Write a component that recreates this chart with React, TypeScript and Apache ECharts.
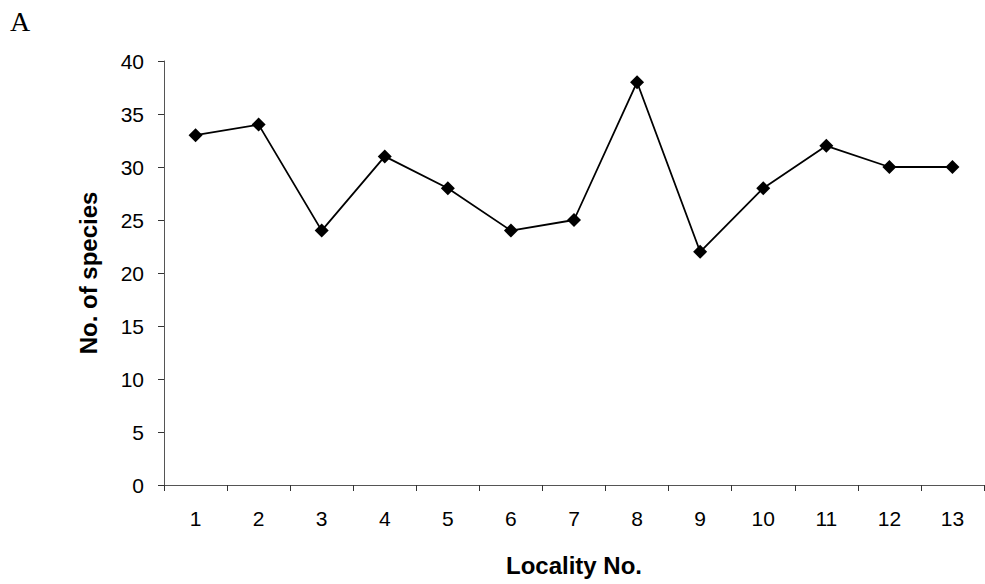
import React, { useEffect, useRef } from "react";
import * as echarts from "echarts";

const localities = ["1", "2", "3", "4", "5", "6", "7", "8", "9", "10", "11", "12", "13"];
const species = [33, 34, 24, 31, 28, 24, 25, 38, 22, 28, 32, 30, 30];

export default function App() {
  const ref = useRef<HTMLDivElement>(null);
  useEffect(() => {
    if (!ref.current) return;
    const chart = echarts.init(ref.current, null, { renderer: "svg" });
    chart.setOption({
      animation: false,
      backgroundColor: "#ffffff",
      textStyle: { fontFamily: "Liberation Sans, Arial, sans-serif" },
      title: {
        text: "A",
        left: 5,
        top: 2,
        textStyle: {
          fontSize: 28,
          fontWeight: "normal",
          fontFamily: "Liberation Serif, Times New Roman, serif",
          color: "#000",
        },
      },
      grid: { left: 164, right: 1, top: 61, bottom: 99 },
      xAxis: {
        type: "category",
        data: localities,
        boundaryGap: true,
        axisLine: { lineStyle: { color: "#555", width: 1 } },
        axisTick: { show: true, inside: false, length: 6, lineStyle: { color: "#333" } },
        axisLabel: { color: "#000", fontSize: 21, margin: 23 },
        name: "Locality No.",
        nameLocation: "middle",
        nameGap: 68,
        nameTextStyle: { color: "#000", fontSize: 24, fontWeight: "bold" },
      },
      yAxis: {
        type: "value",
        min: 0,
        max: 40,
        interval: 5,
        splitLine: { show: false },
        axisLine: { show: true, lineStyle: { color: "#555", width: 1 } },
        axisTick: { show: true, inside: false, length: 6, lineStyle: { color: "#333" } },
        axisLabel: { color: "#000", fontSize: 21, margin: 20 },
        name: "No. of species",
        nameLocation: "middle",
        nameGap: 64,
        nameRotate: 90,
        nameTextStyle: { color: "#000", fontSize: 24, fontWeight: "bold" },
      },
      series: [
        {
          type: "line",
          data: species,
          symbol: "diamond",
          symbolSize: 14,
          itemStyle: { color: "#000" },
          lineStyle: { color: "#000", width: 1.8 },
        },
      ],
    });
    return () => chart.dispose();
  }, []);
  return <div ref={ref} style={{ width: 985, height: 584, position: "absolute", left: 0, top: 0 }} />;
}
